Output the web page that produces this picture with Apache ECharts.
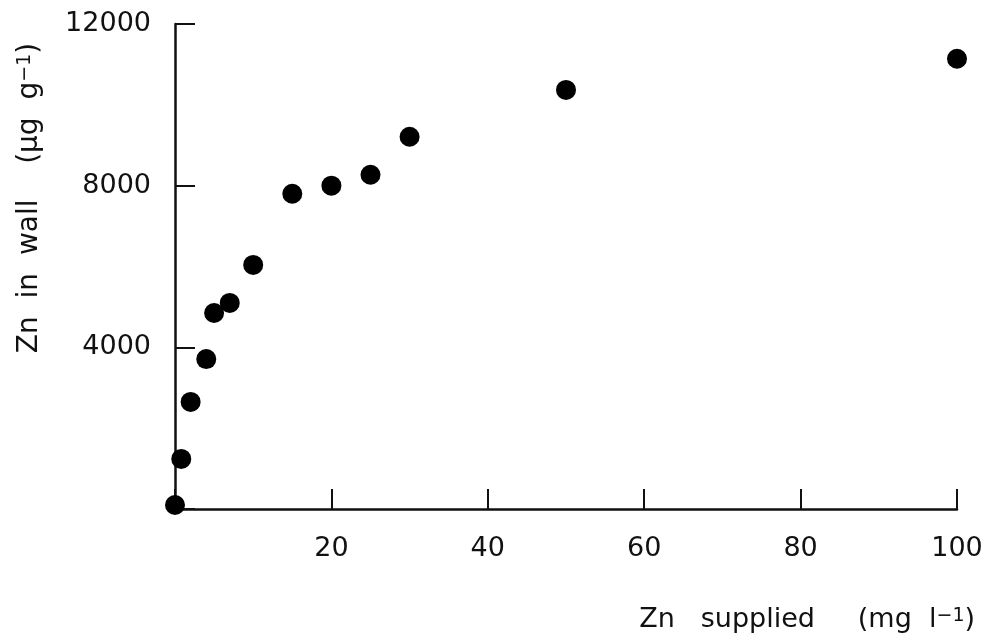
<!DOCTYPE html>
<html>
<head>
<meta charset="utf-8">
<script src="https://cdn.jsdelivr.net/npm/echarts@6/dist/echarts.min.js"></script>
<style>
html,body{margin:0;padding:0;background:#fff;}
#chart{width:986px;height:641px;}
</style>
</head>
<body>
<div id="chart"></div>
<script>
// Data
var znSupplied = [0, 0.8, 2, 4, 5, 7, 10, 15, 20, 25, 30, 50, 100];
var znInWall   = [100, 1240, 2650, 3710, 4850, 5100, 6040, 7800, 8000, 8270, 9210, 10370, 11140];
var xTicks = [0, 20, 40, 60, 80, 100];
var yTicks = [0, 4000, 8000, 12000];

var points = znSupplied.map(function (x, i) { return [x, znInWall[i]]; });
var FONT = 'DejaVu Sans';
var INK = '#111';

var chart = echarts.init(document.getElementById('chart'), null, {renderer: 'canvas'});
chart.setOption({
  animation: false,
  backgroundColor: '#fff',
  grid: {left: 175, right: 29, top: 24, bottom: 132, containLabel: false},
  xAxis: {
    type: 'value',
    min: xTicks[0], max: xTicks[xTicks.length - 1], interval: 20,
    axisLine: {lineStyle: {color: INK, width: 2.5}},
    axisTick: {show: true, inside: true, length: 20, lineStyle: {color: INK, width: 2}},
    splitLine: {show: false},
    axisLabel: {
      color: INK, fontFamily: FONT, fontSize: 27, margin: 26,
      formatter: function (v) { return v === 0 ? '' : String(v); }
    }
  },
  yAxis: {
    type: 'value',
    min: yTicks[0], max: yTicks[yTicks.length - 1], interval: 4000,
    axisLine: {lineStyle: {color: INK, width: 2.5}},
    axisTick: {show: true, inside: true, length: 20, lineStyle: {color: INK, width: 2}},
    splitLine: {show: false},
    axisLabel: {
      color: INK, fontFamily: FONT, fontSize: 27, margin: 24,
      formatter: function (v) { return v === 0 ? '' : String(v); }
    }
  },
  series: [{
    type: 'scatter',
    data: points,
    symbol: 'circle',
    symbolSize: 20,
    itemStyle: {color: '#000', opacity: 1},
    clip: false
  }],
  graphic: [
    {
      type: 'text',
      x: 30, y: 198,
      rotation: Math.PI / 2,
      style: {
        text: 'Zn  in  wall    (\u03bcg  g{sup|\u22121})',
        fontFamily: FONT, fontSize: 28, fill: INK,
        align: 'center', verticalAlign: 'middle',
        rich: {
          sup: {fontFamily: FONT, fontSize: 19, fill: INK, verticalAlign: 'top'}
        }
      }
    },
    {
      type: 'text',
      x: 975, y: 620,
      style: {
        text: 'Zn   supplied     (mg  l{sup|\u22121})',
        fontFamily: FONT, fontSize: 27, fill: INK,
        align: 'right', verticalAlign: 'middle',
        rich: {
          sup: {fontFamily: FONT, fontSize: 19, fill: INK, verticalAlign: 'top'}
        }
      }
    }
  ]
});
</script>
</body>
</html>
